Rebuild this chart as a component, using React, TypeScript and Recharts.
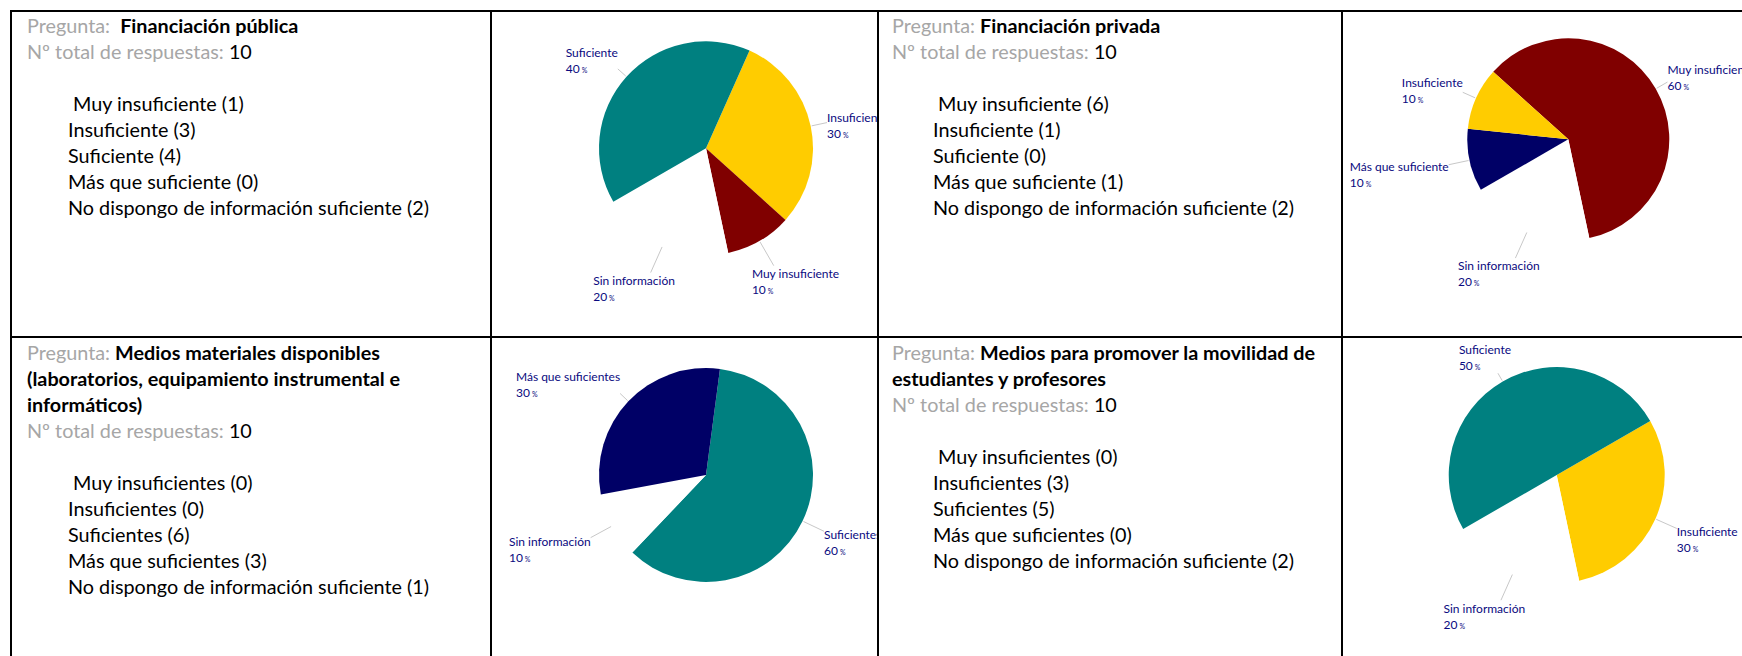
import React from 'react';
import { PieChart, Pie, Cell } from 'recharts';

// ---------- data ----------
const pie1Names = ['Insuficiente', 'Muy insuficiente', 'Sin información', 'Suficiente'];
const pie1Values = [3, 1, 2, 4];
const pie2Names = ['Muy insuficiente', 'Sin información', 'Más que suficiente', 'Insuficiente'];
const pie2Values = [6, 2, 1, 1];
const pie3Names = ['Suficientes', 'Sin información', 'Más que suficientes'];
const pie3Values = [6, 1, 3];
const pie4Names = ['Insuficiente', 'Sin información', 'Suficiente'];
const pie4Values = [3, 2, 5];

const q1Title = 'Financiación pública';
const q1Items = [' Muy insuficiente (1)', 'Insuficiente (3)', 'Suficiente (4)', 'Más que suficiente (0)', 'No dispongo de información suficiente (2)'];
const q2Title = 'Financiación privada';
const q2Items = [' Muy insuficiente (6)', 'Insuficiente (1)', 'Suficiente (0)', 'Más que suficiente (1)', 'No dispongo de información suficiente (2)'];
const q3TitleLines = ['Medios materiales disponibles', '(laboratorios, equipamiento instrumental e', 'informáticos)'];
const q3Items = [' Muy insuficientes (0)', 'Insuficientes (0)', 'Suficientes (6)', 'Más que suficientes (3)', 'No dispongo de información suficiente (1)'];
const q4TitleLines = ['Medios para promover la movilidad de', 'estudiantes y profesores'];
const q4Items = [' Muy insuficientes (0)', 'Insuficientes (3)', 'Suficientes (5)', 'Más que suficientes (0)', 'No dispongo de información suficiente (2)'];
const totalResponses = 10;

// ---------- styles ----------
const COLORS: Record<string, string> = {
  'Muy insuficiente': '#800000',
  'Insuficiente': '#FFCC00',
  'Suficiente': '#008080',
  'Suficientes': '#008080',
  'Más que suficiente': '#000066',
  'Más que suficientes': '#000066',
  'Sin información': '#FFFFFF',
};
const FONT = 'Lato, "Open Sans", sans-serif';
const TEXT_SIZE = 19.8;
const LINE_H = 26;
const LABEL_SIZE = 12;
const LABEL_COLOR = '#0a0a80';
const GRAY = '#a6a6a6';

let measureCtx: CanvasRenderingContext2D | null = null;
function measure(t: string, size: number) {
  if (!measureCtx) {
    const c = document.createElement('canvas');
    measureCtx = c.getContext('2d');
  }
  if (!measureCtx) return t.length * size * 0.45;
  measureCtx.font = `${size}px Lato`;
  return measureCtx.measureText(t).width;
}

const RAD = Math.PI / 180;

function renderLabel(props: any) {
  const { cx, cy, midAngle, outerRadius, percent, name } = props;
  const ux = Math.cos(-midAngle * RAD);
  const uy = Math.sin(-midAngle * RAD);
  const ext = 19 + 11 * uy;
  const r0 = outerRadius + 1;
  const r1 = outerRadius + ext;
  const sx = cx + r0 * ux, sy = cy + r0 * uy;
  const ex = cx + r1 * ux, ey = cy + r1 * uy;
  const pct = Math.round(percent * 100);
  const w = Math.max(measure(name, LABEL_SIZE), measure(String(pct), LABEL_SIZE) + 10);
  const h = 32;
  let left: number, top: number;
  if (Math.abs(uy) > 0.8) {
    const ccx = ex + (w / 2) * ux;
    left = ccx - w / 2;
    top = uy > 0 ? ey : ey - h;
  } else {
    left = ux > 0 ? ex : ex - w;
    const ccy = ey + (h / 2) * uy + 8 * (1 - Math.abs(uy));
    top = ccy - h / 2;
  }
  const b1 = top + 8 + LABEL_SIZE * 0.36;
  const b2 = top + 24 + LABEL_SIZE * 0.36;
  return (
    <g>
      <line x1={sx} y1={sy} x2={ex} y2={ey} stroke="#c8c8c8" strokeWidth={1} />
      <text x={left} y={b1} fill={LABEL_COLOR} fontSize={LABEL_SIZE} fontFamily={FONT}>{name}</text>
      <text x={left} y={b2} fill={LABEL_COLOR} fontSize={LABEL_SIZE} fontFamily={FONT}>
        {String(pct)}
        <tspan dx={2} fontSize={7}>%</tspan>
      </text>
    </g>
  );
}

function PieCell(p: { left: number; top: number; width: number; height: number; names: string[]; values: number[]; cx: number; cy: number; r: number; start: number }) {
  const data = p.names.map((n, i) => ({ name: n, value: p.values[i] }));
  return (
    <div style={{ position: 'absolute', left: p.left, top: p.top, width: p.width, height: p.height, overflow: 'hidden' }}>
      <PieChart width={p.width} height={p.height} margin={{ top: 0, right: 0, bottom: 0, left: 0 }}>
        <Pie
          data={data}
          dataKey="value"
          nameKey="name"
          cx={p.cx}
          cy={p.cy}
          outerRadius={p.r}
          innerRadius={0}
          startAngle={p.start}
          endAngle={p.start - 360}
          stroke="none"
          isAnimationActive={false}
          label={renderLabel}
          labelLine={false}
        >
          {data.map((d) => (
            <Cell key={d.name} fill={COLORS[d.name]} stroke="none" />
          ))}
        </Pie>
      </PieChart>
    </div>
  );
}

function TextCell(p: { left: number; top: number; titleLines: string[]; items: string[]; doubleSpace?: boolean }) {
  const lineStyle: React.CSSProperties = { height: LINE_H, lineHeight: `${LINE_H}px`, whiteSpace: 'pre' };
  return (
    <div style={{ position: 'absolute', left: p.left, top: p.top, fontFamily: FONT, fontSize: TEXT_SIZE, color: '#000' }}>
      {p.titleLines.map((t, i) => (
        <div key={i} style={lineStyle}>
          {i === 0 && <span style={{ color: GRAY }}>{p.doubleSpace ? 'Pregunta:  ' : 'Pregunta: '}</span>}
          <span style={{ fontWeight: 700 }}>{t}</span>
        </div>
      ))}
      <div style={lineStyle}>
        <span style={{ color: GRAY }}>Nº total de respuestas: </span>
        <span>{totalResponses}</span>
      </div>
      <div style={lineStyle}> </div>
      {p.items.map((t, i) => (
        <div key={i} style={{ ...lineStyle, paddingLeft: 41 }}>{t}</div>
      ))}
    </div>
  );
}

const hLine = (top: number): React.CSSProperties => ({ position: 'absolute', left: 10, top, width: 1742, height: 2, background: '#000' });
const vLine = (left: number): React.CSSProperties => ({ position: 'absolute', left, top: 10, width: 2, height: 656, background: '#000' });

export default function App() {
  return (
    <div style={{ position: 'absolute', left: 0, top: 0, width: 1742, height: 656, overflow: 'hidden', background: '#fff' }}>
      <TextCell left={27} top={12} titleLines={[q1Title]} items={q1Items} doubleSpace />
      <TextCell left={892} top={12} titleLines={[q2Title]} items={q2Items} />
      <TextCell left={27} top={339} titleLines={q3TitleLines} items={q3Items} />
      <TextCell left={892} top={339} titleLines={q4TitleLines} items={q4Items} />

      <PieCell left={492} top={12} width={385} height={324} names={pie1Names} values={pie1Values} cx={214} cy={136.3} r={107} start={66} />
      <PieCell left={1343} top={12} width={399} height={324} names={pie2Names} values={pie2Values} cx={225.3} cy={127.3} r={101} start={138} />
      <PieCell left={492} top={338} width={385} height={318} names={pie3Names} values={pie3Values} cx={214} cy={137} r={107} start={82.5} />
      <PieCell left={1343} top={338} width={399} height={318} names={pie4Names} values={pie4Values} cx={213.7} cy={137} r={108} start={30} />

      <div style={hLine(10)} />
      <div style={hLine(336)} />
      <div style={vLine(10)} />
      <div style={vLine(490)} />
      <div style={vLine(877)} />
      <div style={vLine(1341)} />
    </div>
  );
}
